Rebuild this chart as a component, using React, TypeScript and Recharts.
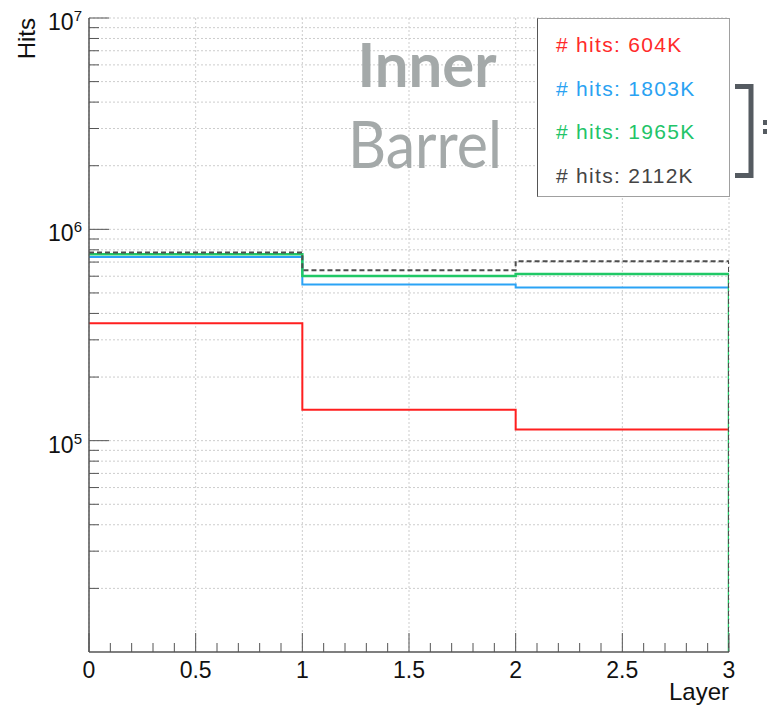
import React from 'react';
import { LineChart, Line, XAxis, YAxis, CartesianGrid, Legend, Label } from 'recharts';

// ---- data ----
const layerEdges = [0, 1, 2, 3];
const hits604K = [359000, 140000, 113000];
const hits1803K = [740000, 548000, 531000];
const hits1965K = [762000, 602000, 615000];
const hits2112K = [776000, 641000, 706000];
const seriesNames = ['# hits: 604K', '# hits: 1803K', '# hits: 1965K', '# hits: 2112K'];
const seriesKeys = ['h604', 'h1803', 'h1965', 'h2112'];
const seriesValues = [hits604K, hits1803K, hits1965K, hits2112K];

const xMajorTicks = [0, 0.5, 1, 1.5, 2, 2.5, 3];
const xMinorTicks = [0.1, 0.2, 0.3, 0.4, 0.6, 0.7, 0.8, 0.9, 1.1, 1.2, 1.3, 1.4, 1.6, 1.7, 1.8, 1.9,
  2.1, 2.2, 2.3, 2.4, 2.6, 2.7, 2.8, 2.9];
const yMajorTicks = [100000, 1000000, 10000000];
const yMinorTicks = [20000, 30000, 40000, 50000, 60000, 70000, 80000, 90000,
  200000, 300000, 400000, 500000, 600000, 700000, 800000, 900000,
  2000000, 3000000, 4000000, 5000000, 6000000, 7000000, 8000000, 9000000];
const yFloor = 10000;
const yCeil = 10000000;

// ---- styles ----
const lineColors = ['#ff1f1f', '#2ba3f5', '#20c866', '#4d4d4d'];
const textColors = ['#ff2a2a', '#2aa2f2', '#22c468', '#444444'];
const lineWidths = [2, 2, 2.5, 2];
const lineDash = [undefined, undefined, undefined, '5 3'];
const axisColor = '#555';
const font = '"Liberation Sans", Arial, Helvetica, sans-serif';

const data = layerEdges.map((x, i) => {
  const row: Record<string, number> = { x };
  seriesKeys.forEach((k, s) => {
    row[k] = i < seriesValues[s].length ? seriesValues[s][i] : yFloor;
  });
  return row;
});

const allXTicks = [...xMajorTicks, ...xMinorTicks].sort((a, b) => a - b);
const allYTicks = [...yMinorTicks, ...yMajorTicks].sort((a, b) => a - b);

const isXMajor = (v: number) => xMajorTicks.some((t) => Math.abs(t - v) < 1e-9);
const isYMajor = (v: number) => yMajorTicks.some((t) => Math.abs(t - v) < 1e-3);

const XTick = (props: any) => {
  const { x, y, payload } = props;
  const v = payload.value;
  const major = isXMajor(v);
  return (
    <g>
      <line x1={x} y1={y} x2={x} y2={y - (major ? 19 : 9)} stroke={axisColor} strokeWidth={1} />
      {major && (
        <text x={x} y={y + 26} textAnchor="middle" fontFamily={font} fontSize={23} fill="#111">
          {String(v)}
        </text>
      )}
    </g>
  );
};

const YTick = (props: any) => {
  const { x, y, payload } = props;
  const v = payload.value;
  const major = isYMajor(v);
  const exp = Math.round(Math.log10(v));
  return (
    <g>
      <line x1={x} y1={y} x2={x + (major ? 20 : 10)} y2={y} stroke={axisColor} strokeWidth={1} />
      {major && (
        <text x={x - 7} y={y + 12} textAnchor="end" fontFamily={font} fontSize={23} fill="#111">
          10
          <tspan fontSize={15} dy={-9}>{String(exp)}</tspan>
        </text>
      )}
    </g>
  );
};

const LegendBox = () => (
  <div
    style={{
      width: 193,
      height: 179,
      boxSizing: 'border-box',
      border: '1px solid #a0a0a0',
      borderLeft: '1.5px solid #555',
      background: '#fff',
      fontFamily: font,
      fontSize: 21,
      letterSpacing: 1.3,
      paddingTop: 4,
    }}
  >
    {seriesNames.map((n, i) => (
      <div key={n} style={{ color: textColors[i], height: 43.5, lineHeight: '43.5px', paddingLeft: 18, whiteSpace: 'nowrap' }}>
        {n}
      </div>
    ))}
  </div>
);

export default function App() {
  return (
    <div style={{ position: 'absolute', left: 0, top: 0, width: 767, height: 709, background: '#fff' }}>
      <LineChart width={767} height={709} data={data} margin={{ top: 18, right: 38, bottom: 0, left: 0 }}>
        <CartesianGrid
          stroke="#cdcdcd"
          strokeDasharray="2 2"
          strokeWidth={1}
          verticalValues={xMajorTicks}
          horizontalValues={allYTicks}
        />
        <XAxis
          type="number"
          dataKey="x"
          domain={[0, 3]}
          ticks={allXTicks}
          interval={0}
          height={57}
          tickSize={0}
          tickMargin={0}
          tickLine={false}
          tick={<XTick />}
          axisLine={{ stroke: axisColor, strokeWidth: 1.5 }}
          allowDataOverflow
        >
          <Label
            content={(p: any) => {
              const vb = p.viewBox || { x: 89, y: 652, width: 640 };
              return (
                <text x={vb.x + vb.width} y={vb.y + 48} textAnchor="end" fontFamily={font} fontSize={24} fill="#111">
                  Layer
                </text>
              );
            }}
          />
        </XAxis>
        <YAxis
          scale="log"
          domain={[yFloor, yCeil]}
          ticks={allYTicks}
          interval={0}
          width={89}
          tickSize={0}
          tickMargin={0}
          tickLine={false}
          tick={<YTick />}
          axisLine={{ stroke: axisColor, strokeWidth: 1.5 }}
          allowDataOverflow
        >
          <Label
            content={(p: any) => {
              const vb = p.viewBox || { x: 0, y: 18 };
              const tx = vb.x + 35;
              const ty = vb.y;
              return (
                <text x={tx} y={ty} transform={`rotate(-90 ${tx} ${ty})`} textAnchor="end" fontFamily={font} fontSize={24} fill="#111">
                  Hits
                </text>
              );
            }}
          />
        </YAxis>
        <Legend
          layout="vertical"
          align="center"
          verticalAlign="middle"
          content={<LegendBox />}
          wrapperStyle={{ position: 'absolute', left: 537, top: 18, width: 193, height: 179 }}
        />
        {seriesKeys.map((k, i) => (
          <Line
            key={k}
            dataKey={k}
            name={seriesNames[i]}
            type="stepAfter"
            stroke={lineColors[i]}
            strokeWidth={lineWidths[i]}
            strokeDasharray={lineDash[i]}
            dot={false}
            activeDot={false}
            isAnimationActive={false}
          />
        ))}
      </LineChart>
      <svg
        width={767}
        height={709}
        style={{ position: 'absolute', left: 0, top: 0, pointerEvents: 'none' }}
      >
        <text x={427} y={87} textAnchor="middle" fontFamily="Lato, 'Open Sans', sans-serif" fontWeight={700} fontSize={62} fill="#a4a9a9" textLength={139} lengthAdjust="spacingAndGlyphs">
          Inner
        </text>
        <text x={425} y={168} textAnchor="middle" fontFamily="Lato, 'Open Sans', sans-serif" fontWeight={400} fontSize={65} fill="#a4a9a9" textLength={154} lengthAdjust="spacingAndGlyphs">
          Barrel
        </text>
        <path d="M735 86.5 H751 V175.5 H735" stroke="#555b61" strokeWidth={5} fill="none" />
        <rect x={763} y={120} width={5} height={5} fill="#555b61" />
        <rect x={763} y={129} width={5} height={5} fill="#555b61" />
      </svg>
    </div>
  );
}
